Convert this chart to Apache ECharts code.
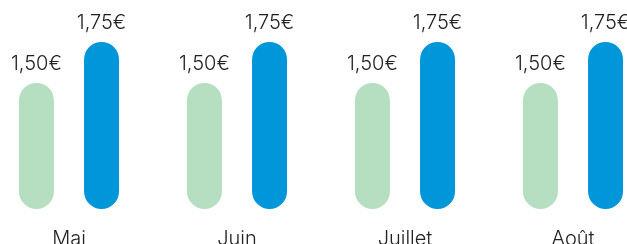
<!DOCTYPE html>
<html>
<head>
<meta charset="utf-8">
<script src="https://cdn.jsdelivr.net/npm/echarts@6/dist/echarts.min.js"></script>
<style>
    html, body { margin: 0; padding: 0; background: #fff; }
    #chart { width: 627px; height: 244px; }
</style>
</head>
<body>
<div id="chart"></div>
<script>
    var months = ['Mai', 'Juin', 'Juillet', 'Août'];
    var oldPrice = [1.50, 1.50, 1.50, 1.50];
    var newPrice = [1.75, 1.75, 1.75, 1.75];

    function euro(p) {
        return p.value.toFixed(2).replace('.', ',') + '€';
    }

    var chart = echarts.init(document.getElementById('chart'));
    var labelStyle = {
        show: true,
        position: 'top',
        distance: 9,
        color: '#222',
        fontFamily: 'Inter',
        fontWeight: 300,
        fontSize: 20,
        formatter: euro
    };
    chart.setOption({
        animation: false,
        grid: { left: -15, right: -30, top: 1, bottom: 35, outerBoundsMode: 'none', containLabel: false },
        xAxis: {
            type: 'category',
            data: months,
            axisLine: { show: false },
            axisTick: { show: false },
            axisLabel: {
                margin: 20,
                color: '#222',
                fontFamily: 'Inter',
                fontWeight: 300,
                fontSize: 20
            }
        },
        yAxis: {
            type: 'value',
            min: 0.73,
            max: 2.0,
            show: false,
            splitLine: { show: false }
        },
        series: [{
            type: 'bar',
            data: oldPrice,
            barWidth: 35,
            barGap: '86%',
            itemStyle: { color: '#b6dfc1', borderRadius: 17.5 },
            label: labelStyle
        }, {
            type: 'bar',
            data: newPrice,
            barWidth: 35,
            itemStyle: { color: '#0096d9', borderRadius: 17.5 },
            label: labelStyle
        }]
    });
</script>
</body>
</html>
